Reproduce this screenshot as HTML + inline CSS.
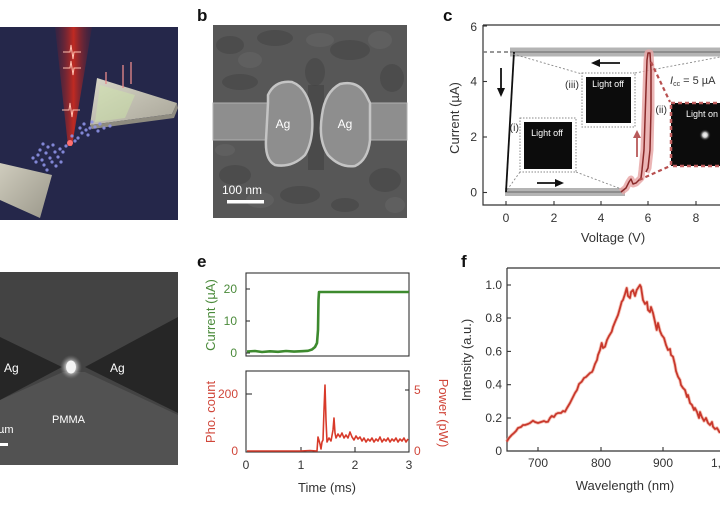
<!DOCTYPE html>
<html>
<head>
<meta charset="utf-8">
<style>
  html,body{margin:0;padding:0;background:#fff;}
  body{width:720px;height:505px;overflow:hidden;}
  svg{display:block;}
  text{font-family:"Liberation Sans",Arial,sans-serif;}
</style>
</head>
<body>
<svg width="720" height="505" viewBox="0 0 720 505" xmlns="http://www.w3.org/2000/svg">
  <defs>
    <linearGradient id="beam" x1="0" y1="0" x2="1" y2="0">
      <stop offset="0" stop-color="#5a1f35" stop-opacity="0.3"/>
      <stop offset="0.5" stop-color="#c02a22"/>
      <stop offset="1" stop-color="#5a1f35" stop-opacity="0.3"/>
    </linearGradient>
    <linearGradient id="prism1" x1="0" y1="0" x2="1" y2="1">
      <stop offset="0" stop-color="#d8d6c8"/>
      <stop offset="1" stop-color="#a8a598"/>
    </linearGradient>
    <linearGradient id="prism2" x1="0" y1="0" x2="1" y2="1">
      <stop offset="0" stop-color="#cfccbd"/>
      <stop offset="1" stop-color="#9a978a"/>
    </linearGradient>
    <radialGradient id="glow">
      <stop offset="0" stop-color="#ffffff"/>
      <stop offset="0.5" stop-color="#f0f0f0"/>
      <stop offset="1" stop-color="#888" stop-opacity="0"/>
    </radialGradient>
    <radialGradient id="glow2">
      <stop offset="0" stop-color="#ffffff"/>
      <stop offset="0.4" stop-color="#d0d0d0"/>
      <stop offset="1" stop-color="#000" stop-opacity="0"/>
    </radialGradient>
  </defs>

  <!-- ============ Panel a ============ -->
  <rect x="0" y="27" width="178" height="193" fill="#25274a"/>
  <polygon points="55,27 92,27 72,146 68,146" fill="url(#beam)"/>
  <g stroke="#ffc0b0" stroke-width="1" fill="none">
    <path d="M63,52 L70,52 L71,45 L73,59 L74,52 L81,52"/>
    <path d="M63,68 L70,68 L71,61 L73,75 L74,68 L81,68"/>
    <path d="M62,110 L69,110 L70,103 L72,117 L73,110 L80,110"/>
  </g>
  <polygon points="97,78 177,103 172,114 90,125" fill="url(#prism1)"/>
  <polygon points="90,125 172,114 177,103 178,108 174,118 92,129" fill="#8e8b80"/>
  <polygon points="100,85 135,95 125,118 95,122" fill="#cfe8a8" opacity="0.45"/>
  <g stroke="#e88a8a" stroke-width="1.3">
    <line x1="106" y1="72" x2="106" y2="84"/>
    <line x1="123" y1="65" x2="123" y2="88"/>
    <line x1="131" y1="62" x2="131" y2="84"/>
  </g>
  <polygon points="0,163 52,175 40,218 0,200" fill="url(#prism2)"/>
  <g fill="#8d92e6" opacity="0.9">
    <circle cx="38" cy="155" r="1.6"/><circle cx="42" cy="160" r="1.6"/><circle cx="46" cy="153" r="1.6"/>
    <circle cx="50" cy="158" r="1.6"/><circle cx="44" cy="165" r="1.6"/><circle cx="55" cy="152" r="1.6"/>
    <circle cx="52" cy="162" r="1.6"/><circle cx="58" cy="157" r="1.6"/><circle cx="60" cy="149" r="1.6"/>
    <circle cx="48" cy="147" r="1.6"/><circle cx="36" cy="162" r="1.6"/><circle cx="56" cy="166" r="1.6"/>
    <circle cx="63" cy="152" r="1.6"/><circle cx="66" cy="146" r="1.6"/><circle cx="40" cy="150" r="1.6"/>
    <circle cx="78" cy="138" r="1.6"/><circle cx="82" cy="133" r="1.6"/><circle cx="86" cy="130" r="1.6"/>
    <circle cx="80" cy="128" r="1.6"/><circle cx="90" cy="128" r="1.6"/><circle cx="95" cy="127" r="1.6"/>
    <circle cx="84" cy="124" r="1.6"/><circle cx="98" cy="131" r="1.6"/><circle cx="75" cy="141" r="1.6"/>
    <circle cx="104" cy="128" r="1.6"/><circle cx="110" cy="126" r="1.6"/><circle cx="88" cy="135" r="1.6"/>
    <circle cx="33" cy="158" r="1.6"/><circle cx="47" cy="170" r="1.6"/><circle cx="53" cy="145" r="1.6"/>
    <circle cx="61" cy="162" r="1.6"/><circle cx="72" cy="136" r="1.6"/><circle cx="92" cy="122" r="1.6"/>
    <circle cx="100" cy="124" r="1.6"/><circle cx="43" cy="144" r="1.6"/>
  </g>
  <circle cx="70" cy="143" r="3" fill="#ff7070"/>

  <!-- ============ Panel b ============ -->
  <text x="197" y="21" font-size="17" font-weight="bold" fill="#111">b</text>
  <rect x="213" y="25" width="194" height="193" fill="#575757"/>
  <g fill="#4a4a4a" opacity="0.8">
    <ellipse cx="230" cy="45" rx="14" ry="9"/>
    <ellipse cx="275" cy="38" rx="18" ry="8"/>
    <ellipse cx="350" cy="50" rx="20" ry="10"/>
    <ellipse cx="392" cy="78" rx="12" ry="14"/>
    <ellipse cx="240" cy="82" rx="18" ry="8"/>
    <ellipse cx="315" cy="72" rx="10" ry="14"/>
    <ellipse cx="235" cy="175" rx="16" ry="10"/>
    <ellipse cx="300" cy="195" rx="20" ry="9"/>
    <ellipse cx="385" cy="180" rx="16" ry="12"/>
    <ellipse cx="345" cy="205" rx="14" ry="7"/>
  </g>
  <g fill="#626262" opacity="0.8">
    <ellipse cx="250" cy="60" rx="12" ry="8"/>
    <ellipse cx="320" cy="40" rx="14" ry="7"/>
    <ellipse cx="380" cy="40" rx="12" ry="9"/>
    <ellipse cx="260" cy="200" rx="14" ry="8"/>
    <ellipse cx="395" cy="205" rx="10" ry="8"/>
    <ellipse cx="225" cy="150" rx="10" ry="6"/>
  </g>
  <rect x="308" y="85" width="16" height="85" fill="#444" opacity="0.7"/>
  <rect x="213" y="103" width="58" height="37" fill="#8e8e8e" stroke="#b0b0b0" stroke-width="1"/>
  <rect x="365" y="103" width="42" height="37" fill="#8e8e8e" stroke="#b0b0b0" stroke-width="1"/>
  <path d="M268,95 Q275,80 292,82 Q308,88 312,115 Q314,140 305,155 Q292,168 275,165 Q265,160 266,140 L268,103 Z" fill="#8e8e8e" stroke="#c4c4c4" stroke-width="2.5"/>
  <path d="M322,115 Q325,92 340,84 Q358,80 366,95 L370,103 L370,140 Q368,160 355,166 Q340,168 328,155 Q318,140 322,115 Z" fill="#8e8e8e" stroke="#c4c4c4" stroke-width="2.5"/>
  <text x="283" y="128" font-size="12" fill="#fff" text-anchor="middle">Ag</text>
  <text x="345" y="128" font-size="12" fill="#fff" text-anchor="middle">Ag</text>
  <text x="222" y="194" font-size="12" fill="#fff">100 nm</text>
  <rect x="227" y="200" width="37" height="3.5" fill="#fff"/>

  <!-- ============ Panel c ============ -->
  <text x="443" y="21" font-size="17" font-weight="bold" fill="#111">c</text>
  <path d="M483,25 L722,25 M483,25 L483,205 L722,205" stroke="#333" stroke-width="1.2" fill="none"/>
  <g stroke="#333" stroke-width="1.1">
    <line x1="483" y1="192.5" x2="487" y2="192.5"/>
    <line x1="483" y1="137" x2="487" y2="137"/>
    <line x1="483" y1="81.5" x2="487" y2="81.5"/>
    <line x1="483" y1="26" x2="487" y2="26"/>
    <line x1="506" y1="205" x2="506" y2="201"/>
    <line x1="554" y1="205" x2="554" y2="201"/>
    <line x1="601" y1="205" x2="601" y2="201"/>
    <line x1="648" y1="205" x2="648" y2="201"/>
    <line x1="696" y1="205" x2="696" y2="201"/>
  </g>
  <g font-size="12" fill="#333" text-anchor="end">
    <text x="477" y="196.5">0</text>
    <text x="477" y="141">2</text>
    <text x="477" y="85.5">4</text>
    <text x="477" y="31">6</text>
  </g>
  <g font-size="12" fill="#333" text-anchor="middle">
    <text x="506" y="222">0</text>
    <text x="554" y="222">2</text>
    <text x="601" y="222">4</text>
    <text x="648" y="222">6</text>
    <text x="696" y="222">8</text>
  </g>
  <text x="613" y="242" font-size="13" fill="#333" text-anchor="middle">Voltage (V)</text>
  <text transform="translate(459,118) rotate(-90)" font-size="13" fill="#333" text-anchor="middle">Current (µA)</text>

  <line x1="510" y1="52" x2="722" y2="52" stroke="#b4b4b4" stroke-width="9"/>
  <line x1="510" y1="52" x2="722" y2="52" stroke="#8e8e8e" stroke-width="2"/>
  <line x1="505" y1="192" x2="625" y2="192" stroke="#b4b4b4" stroke-width="8"/>
  <line x1="505" y1="192" x2="625" y2="192" stroke="#8e8e8e" stroke-width="2"/>
  <line x1="483" y1="52" x2="510" y2="52" stroke="#777" stroke-width="1.5" stroke-dasharray="4,3"/>

  <line x1="506" y1="192" x2="514" y2="52" stroke="#111" stroke-width="1.8"/>
  <g stroke="#111" stroke-width="1.8" fill="#111">
    <line x1="501" y1="68" x2="501" y2="90"/>
    <polygon points="497,88 505,88 501,97" stroke="none"/>
    <line x1="537" y1="183" x2="556" y2="183"/>
    <polygon points="555,179 555,187 564,183" stroke="none"/>
    <line x1="599" y1="63" x2="620" y2="63"/>
    <polygon points="600,59 600,67 591,63" stroke="none"/>
  </g>

  <g stroke="#888" stroke-width="0.9" stroke-dasharray="2,2" fill="none">
    <line x1="520" y1="172" x2="507" y2="190"/>
    <line x1="576" y1="172" x2="624" y2="190"/>
    <line x1="513" y1="54" x2="582" y2="74"/>
    <line x1="635" y1="73" x2="720" y2="57"/>
  </g>

  <rect x="520" y="118" width="56" height="54" fill="#fff" stroke="#888" stroke-width="1" stroke-dasharray="1.5,1.5"/>
  <rect x="524" y="122" width="48" height="47" fill="#0c0c0c"/>
  <text x="547" y="136" font-size="9" fill="#fff" text-anchor="middle">Light off</text>
  <text x="519" y="131" font-size="10.5" fill="#333" text-anchor="end">(i)</text>

  <rect x="582" y="73" width="53" height="54" fill="#fff" stroke="#888" stroke-width="1" stroke-dasharray="1.5,1.5"/>
  <rect x="586" y="77" width="45" height="46" fill="#0c0c0c"/>
  <text x="608" y="87" font-size="9" fill="#fff" text-anchor="middle">Light off</text>
  <text x="579" y="88" font-size="10.5" fill="#333" text-anchor="end">(iii)</text>

  <polyline points="621,192 626,188 629,182 631,179 633,184 636,183 639,180 641,178 642,170 644,150 645,120 646,90 647,60 648,53 650,53 651,70 651,110 650,150 648,168 646,172"
    fill="none" stroke="#e8a8a8" stroke-width="7" stroke-linejoin="round" opacity="0.85"/>
  <polyline points="621,192 626,188 629,182 631,179 633,184 636,183 639,180 641,178 642,170 644,150 645,120 646,90 647,60 648,53 650,53 651,70 651,110 650,150 648,168 646,172"
    fill="none" stroke="#8a2a2a" stroke-width="1.5" stroke-linejoin="round"/>
  <line x1="637" y1="157" x2="637" y2="137" stroke="#b85a5a" stroke-width="1.8"/>
  <polygon points="633,138 641,138 637,130" fill="#b85a5a"/>

  <g stroke="#b85050" stroke-width="2.2" stroke-dasharray="4,3" fill="none">
    <line x1="651" y1="62" x2="670" y2="102"/>
    <line x1="639" y1="180" x2="670" y2="166"/>
  </g>
  <rect x="671" y="103" width="52" height="63" fill="#0c0c0c" stroke="#c06060" stroke-width="2.5" stroke-dasharray="4,3"/>
  <text x="686" y="117" font-size="9" fill="#fff">Light on</text>
  <circle cx="705" cy="135" r="6" fill="url(#glow2)"/>
  <text x="667" y="113" font-size="10.5" fill="#333" text-anchor="end">(ii)</text>
  <text x="670" y="84" font-size="11" fill="#333"><tspan font-style="italic">I</tspan><tspan font-size="7" dy="2">cc</tspan><tspan dy="-2"> = 5 µA</tspan></text>

  <!-- ============ Panel d ============ -->
  <rect x="0" y="272" width="178" height="193" fill="#434343"/>
  <polygon points="0,400 63,372 85,372 178,415 178,465 0,465" fill="#525252"/>
  <polygon points="85,367 178,317 178,413" fill="#262626"/>
  <polygon points="62,367 0,337 0,400" fill="#262626"/>
  <ellipse cx="71" cy="367" rx="11" ry="12" fill="url(#glow)" opacity="0.6"/>
  <ellipse cx="71" cy="367" rx="5" ry="6.5" fill="#f4f4f4"/>
  <text x="4" y="372" font-size="12" fill="#fff">Ag</text>
  <text x="110" y="372" font-size="12" fill="#fff">Ag</text>
  <text x="52" y="423" font-size="11" fill="#fff">PMMA</text>
  <text x="-2" y="433" font-size="11" fill="#fff">µm</text>
  <rect x="0" y="443" width="8" height="3" fill="#fff"/>

  <!-- ============ Panel e ============ -->
  <text x="197" y="267" font-size="17" font-weight="bold" fill="#111">e</text>
  <rect x="246" y="273" width="163" height="83" fill="none" stroke="#333" stroke-width="1.1"/>
  <g stroke="#333" stroke-width="1.1">
    <line x1="246" y1="289" x2="250" y2="289"/>
    <line x1="246" y1="321" x2="250" y2="321"/>
    <line x1="246" y1="353" x2="250" y2="353"/>
  </g>
  <g font-size="12" fill="#4a8a3a" text-anchor="end">
    <text x="237" y="293">20</text>
    <text x="237" y="325">10</text>
    <text x="237" y="357">0</text>
  </g>
  <text transform="translate(215,315) rotate(-90)" font-size="13" fill="#4a8a3a" text-anchor="middle">Current (µA)</text>
  <polyline points="247,351.5 255,351 262,352 270,351.3 278,351.8 286,351 294,351.6 302,351.2 308,350.8 312,349.5 315,347 317,343 318,330 318.5,300 319,292 409,292"
    fill="none" stroke="#3d8a2e" stroke-width="2.6" stroke-linejoin="round"/>

  <rect x="246" y="371" width="163" height="81" fill="none" stroke="#333" stroke-width="1.1"/>
  <g stroke="#333" stroke-width="1.1">
    <line x1="246" y1="394" x2="252" y2="394"/>
    <line x1="409" y1="390" x2="405" y2="390"/>
    <line x1="301" y1="452" x2="301" y2="447"/>
    <line x1="355" y1="452" x2="355" y2="447"/>
  </g>
  <g font-size="12" fill="#d0463a" text-anchor="end">
    <text x="238" y="398">200</text>
    <text x="238" y="455">0</text>
  </g>
  <g font-size="12" fill="#d0463a">
    <text x="414" y="394">5</text>
    <text x="414" y="455">0</text>
  </g>
  <text transform="translate(215,412) rotate(-90)" font-size="13" fill="#d0463a" text-anchor="middle">Pho. count</text>
  <text transform="translate(439,413) rotate(90)" font-size="13" fill="#d0463a" text-anchor="middle">Power (pW)</text>
  <polyline points="247,451 280,451 300,451 310,450.5 317,451 318,437 320,444 321,449 322,442 323,440 324,410 325,385 326,420 327,442 329,438 331,441 333,430 334,418 335,433 336,438 338,434 340,437 342,433 344,438 346,435 348,438 350,432 352,437 354,440 356,436 358,439 360,437 362,441 364,438 366,442 368,439 370,441 372,438 374,442 376,439 378,441 380,437 382,442 384,439 386,441 388,438 390,442 392,439 394,441 396,438 398,442 400,439 402,441 404,438 406,442 408,439"
    fill="none" stroke="#d83a2a" stroke-width="1.6" stroke-linejoin="round"/>
  <g font-size="12" fill="#333" text-anchor="middle">
    <text x="246" y="469">0</text>
    <text x="301" y="469">1</text>
    <text x="355" y="469">2</text>
    <text x="409" y="469">3</text>
  </g>
  <text x="327" y="492" font-size="13" fill="#333" text-anchor="middle">Time (ms)</text>

  <!-- ============ Panel f ============ -->
  <text x="461" y="267" font-size="17" font-weight="bold" fill="#111">f</text>
  <path d="M507,268 L722,268 M507,268 L507,451 L722,451" stroke="#333" stroke-width="1.2" fill="none"/>
  <g stroke="#333" stroke-width="1.1">
    <line x1="507" y1="285" x2="511" y2="285"/>
    <line x1="507" y1="318" x2="511" y2="318"/>
    <line x1="507" y1="351.4" x2="511" y2="351.4"/>
    <line x1="507" y1="384.7" x2="511" y2="384.7"/>
    <line x1="507" y1="418" x2="511" y2="418"/>
    <line x1="538" y1="451" x2="538" y2="447"/>
    <line x1="601" y1="451" x2="601" y2="447"/>
    <line x1="663" y1="451" x2="663" y2="447"/>
  </g>
  <g font-size="12" fill="#333" text-anchor="end">
    <text x="502" y="289">1.0</text>
    <text x="502" y="322">0.8</text>
    <text x="502" y="355.4">0.6</text>
    <text x="502" y="388.7">0.4</text>
    <text x="502" y="422">0.2</text>
    <text x="502" y="455">0</text>
  </g>
  <g font-size="12" fill="#333" text-anchor="middle">
    <text x="538" y="467">700</text>
    <text x="601" y="467">800</text>
    <text x="663" y="467">900</text>
    <text x="726" y="467">1,000</text>
  </g>
  <text x="625" y="490" font-size="13" fill="#333" text-anchor="middle">Wavelength (nm)</text>
  <text transform="translate(471,360) rotate(-90)" font-size="13" fill="#333" text-anchor="middle">Intensity (a.u.)</text>
  <polyline points="506.7,441.7 509,438 511.7,435 514,433 516,431 518,428 521,427 523,425 525,425 528,424 530,423 533,420.7 535,422 538,423 541,422 544,421 546,422 548,421.7 550,418 551.7,416 554,417 556,414 558,413 561,413 563,411 565,411.7 567,408 570,403 572,399 575,393 577,390 579,384 581.7,381.7 584,378 586,377 588,375 590,373 592,372 593,370 595,364 597,360 598,355 600,350 601.7,343 603,348 605,346.7 607,340 609,336 611.7,331.7 613,327 615,322 618,315 620,308 621.7,301.7 623,300 625,294 626.7,288 628,296 630,298 631,292 633,290 635,296 636.7,290 638,288 640,285 641,287 643,300 645,304 647,302 648,310 650,312 651,307 653,313 655,322 656.7,330 658,323 660,331 661.7,335 664,338 666,345 668,350 670,349 671,355 673,356.7 675,365 676,371 678,376.7 680,380 681,385 683,388 685,390 687,397 688,395 690,403 692,405 694,410 695,408 697,412 699,418 700,412 701.7,416.7 704,421 706,418 708,423 710,425 712,422 713,426.7 715,429 717,428 720,433"
    fill="none" stroke="#f0a090" stroke-width="3.5" stroke-linejoin="round" opacity="0.6"/>
  <polyline points="506.7,441.7 509,438 511.7,435 514,433 516,431 518,428 521,427 523,425 525,425 528,424 530,423 533,420.7 535,422 538,423 541,422 544,421 546,422 548,421.7 550,418 551.7,416 554,417 556,414 558,413 561,413 563,411 565,411.7 567,408 570,403 572,399 575,393 577,390 579,384 581.7,381.7 584,378 586,377 588,375 590,373 592,372 593,370 595,364 597,360 598,355 600,350 601.7,343 603,348 605,346.7 607,340 609,336 611.7,331.7 613,327 615,322 618,315 620,308 621.7,301.7 623,300 625,294 626.7,288 628,296 630,298 631,292 633,290 635,296 636.7,290 638,288 640,285 641,287 643,300 645,304 647,302 648,310 650,312 651,307 653,313 655,322 656.7,330 658,323 660,331 661.7,335 664,338 666,345 668,350 670,349 671,355 673,356.7 675,365 676,371 678,376.7 680,380 681,385 683,388 685,390 687,397 688,395 690,403 692,405 694,410 695,408 697,412 699,418 700,412 701.7,416.7 704,421 706,418 708,423 710,425 712,422 713,426.7 715,429 717,428 720,433"
    fill="none" stroke="#c8382c" stroke-width="1.8" stroke-linejoin="round"/>
</svg>
</body>
</html>
